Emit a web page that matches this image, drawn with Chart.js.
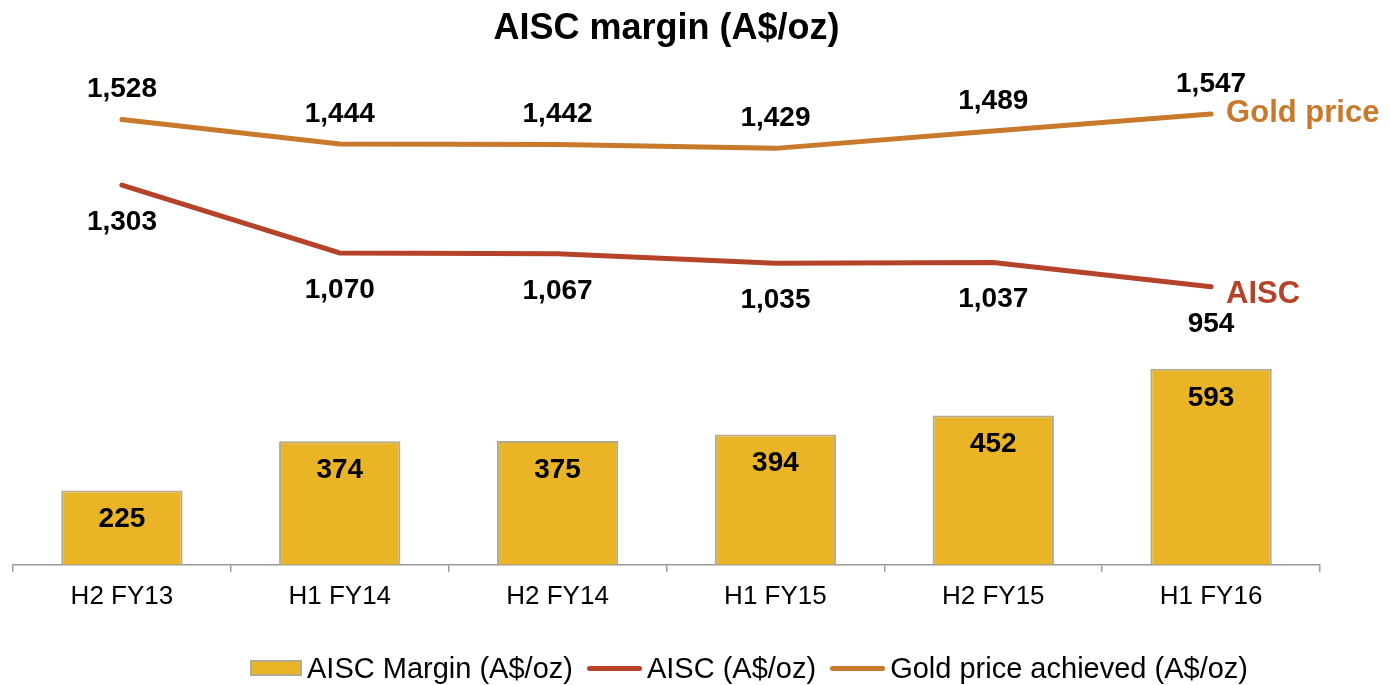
<!DOCTYPE html>
<html lang="en">
<head>
  <meta charset="UTF-8">
  <title>AISC margin</title>
  <script src="https://cdn.jsdelivr.net/npm/chart.js"></script>
  <style>
    body { margin: 0; background: #fff; font-family: "Liberation Sans", Arial, sans-serif; }
    .wrap { position: relative; width: 1390px; height: 685px; }
    #legend {
      position: absolute; left: 0; top: 648px; width: 1390px; height: 40px;
      box-sizing: border-box; padding-left: 108px;
      display: flex; justify-content: center; align-items: center;
      font-size: 29px; color: #000;
    }
    .item { display: flex; align-items: center; margin: 0 7px; white-space: nowrap; }
    .swatch { margin-right: 5px; }
    .swatch.box { width: 48px; height: 12px; border: 2px solid #B3A88A; }
    .swatch.line { width: 55px; height: 5px; border-radius: 3px; }
  </style>
</head>
<body>
  <div class="wrap">
    <canvas id="aiscChart"></canvas>
    <div id="legend"></div>
  </div>

  <script>
    // data
    const periods = ['H2 FY13', 'H1 FY14', 'H2 FY14', 'H1 FY15', 'H2 FY15', 'H1 FY16'];
    const marginValues = [225, 374, 375, 394, 452, 593];
    const aiscValues = [1303, 1070, 1067, 1035, 1037, 954];
    const goldValues = [1528, 1444, 1442, 1429, 1489, 1547];

    const FONT = '"Liberation Sans", Arial, sans-serif';
    Chart.defaults.font.family = FONT;

    // numbers on bars / points and the series names at the line ends
    const valueLabels = {
      id: 'valueLabels',
      afterDatasetsDraw(chart) {
        const ctx = chart.ctx;
        ctx.save();
        ctx.textBaseline = 'middle';
        chart.data.datasets.forEach((ds, i) => {
          const meta = chart.getDatasetMeta(i);
          ctx.font = 'bold 28px ' + FONT;
          ctx.fillStyle = '#000';
          ctx.textAlign = 'center';
          meta.data.forEach((el, j) => {
            ctx.fillText(ds.data[j].toLocaleString('en-US'), el.x, el.y + ds.labelOffset);
          });
          if (ds.endLabel) {
            const last = meta.data[meta.data.length - 1];
            ctx.font = 'bold 31px ' + FONT;
            ctx.fillStyle = ds.borderColor;
            ctx.textAlign = 'left';
            ctx.fillText(ds.endLabel, last.x + 15, last.y + ds.endLabelDy);
          }
        });
        ctx.restore();
      }
    };

    const ctx = document.getElementById('aiscChart').getContext('2d');
    const chart = new Chart(ctx, {
      type: 'bar',
      data: {
        labels: periods,
        datasets: [{
          label: 'AISC Margin (A$/oz)',
          data: marginValues,
          backgroundColor: '#E9B526',
          borderColor: '#B3A88A',
          borderWidth: 2,
          barPercentage: 0.557,
          categoryPercentage: 1,
          yAxisID: 'y',
          labelOffset: 29
        }, {
          type: 'line',
          label: 'AISC (A$/oz)',
          data: aiscValues,
          borderColor: '#B5432A',
          backgroundColor: '#B5432A',
          borderWidth: 5,
          borderCapStyle: 'round',
          pointRadius: 0,
          tension: 0,
          yAxisID: 'y1',
          labelOffset: 37,
          endLabel: 'AISC',
          endLabelDy: 8
        }, {
          type: 'line',
          label: 'Gold price achieved (A$/oz)',
          data: goldValues,
          borderColor: '#C9792C',
          backgroundColor: '#C9792C',
          borderWidth: 5,
          borderCapStyle: 'round',
          pointRadius: 0,
          tension: 0,
          yAxisID: 'y1',
          labelOffset: -30,
          endLabel: 'Gold price',
          endLabelDy: -1
        }]
      },
      options: {
        responsive: true,
        maintainAspectRatio: false,
        animation: false,
        layout: { padding: { left: 13, right: 70, top: 0, bottom: 64 } },
        scales: {
          x: {
            grid: { drawOnChartArea: false, tickLength: 7, color: '#999', lineWidth: 1.5 },
            border: { color: '#999', width: 1.5 },
            ticks: { color: '#000', font: { size: 26 }, padding: 9 }
          },
          y: { display: false, min: 0, max: 1530 },
          y1: { display: false, min: 0, max: 1735 }
        },
        plugins: {
          legend: { display: false },
          tooltip: { enabled: false },
          title: {
            display: true,
            text: 'AISC margin (A$/oz)',
            color: '#000',
            font: { size: 36, weight: 'bold' },
            padding: { top: 7, bottom: 9 }
          }
        }
      },
      plugins: [valueLabels]
    });

    // legend as html under the chart
    const legendEl = document.getElementById('legend');
    chart.data.datasets.forEach(ds => {
      const item = document.createElement('div');
      item.className = 'item';
      const sw = document.createElement('span');
      if (ds.type === 'line') {
        sw.className = 'swatch line';
        sw.style.background = ds.borderColor;
      } else {
        sw.className = 'swatch box';
        sw.style.background = ds.backgroundColor;
      }
      const txt = document.createElement('span');
      txt.textContent = ds.label;
      item.appendChild(sw);
      item.appendChild(txt);
      legendEl.appendChild(item);
    });
  </script>
</body>
</html>
